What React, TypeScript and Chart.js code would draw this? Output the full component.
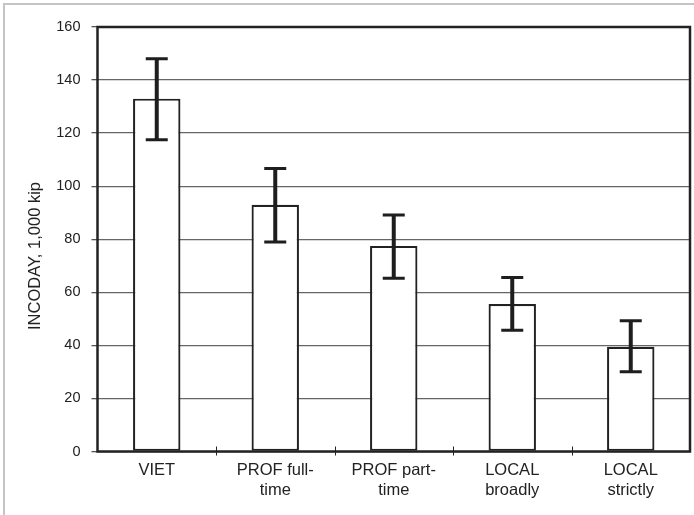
import React, { useEffect, useRef } from "react";
import { Chart, registerables } from "chart.js";

Chart.register(...registerables);

const categories: string[][] = [
  ["VIET"],
  ["PROF full-", "time"],
  ["PROF part-", "time"],
  ["LOCAL", "broadly"],
  ["LOCAL", "strictly"],
];
const means: number[] = [133, 93, 77.5, 55.6, 39.5];
const errLow: number[] = [117.5, 79, 65.3, 45.7, 30.1];
const errHigh: number[] = [148, 106.7, 89.1, 65.6, 49.3];
const yMin = 0;
const yMax = 160;
const yStep = 20;
const yTitle = "INCODAY, 1,000 kip";

const FONT = "'Liberation Sans', Arial, sans-serif";

const framePlugin = {
  id: "frame",
  beforeDraw(chart: any) {
    const ctx = chart.ctx;
    ctx.save();
    ctx.fillStyle = "#ffffff";
    ctx.fillRect(0, 0, chart.width, chart.height);
    ctx.fillStyle = "#c4c4c4";
    ctx.fillRect(3, 3, chart.width - 3, 2);
    ctx.fillRect(3, 3, 2, chart.height - 3);
    ctx.restore();
  },
  afterDatasetsDraw(chart: any) {
    const ctx = chart.ctx;
    const a = chart.chartArea;
    const x = chart.scales.x;
    const y = chart.scales.y;
    ctx.save();
    // x tick marks crossing axis
    ctx.strokeStyle = "#222";
    ctx.lineWidth = 1;
    for (let i = 1; i < categories.length; i++) {
      const px = Math.round((x.getPixelForValue(i - 1) + x.getPixelForValue(i)) / 2) + 0.5;
      ctx.beginPath();
      ctx.moveTo(px, a.bottom - 5);
      ctx.lineTo(px, a.bottom + 4);
      ctx.stroke();
    }
    // chart area border
    ctx.strokeStyle = "#222";
    ctx.lineWidth = 2.5;
    ctx.strokeRect(a.left, a.top, a.right - a.left, a.bottom - a.top);
    // error bars
    const meta = chart.getDatasetMeta(0);
    ctx.strokeStyle = "#1e1e1e";
    ctx.lineCap = "butt";
    meta.data.forEach((bar: any, i: number) => {
      const cx = bar.x;
      const yh = y.getPixelForValue(errHigh[i]);
      const yl = y.getPixelForValue(errLow[i]);
      ctx.lineWidth = 4;
      ctx.beginPath();
      ctx.moveTo(cx, yh);
      ctx.lineTo(cx, yl);
      ctx.stroke();
      ctx.lineWidth = 3;
      ctx.beginPath();
      ctx.moveTo(cx - 11, yh);
      ctx.lineTo(cx + 11, yh);
      ctx.moveTo(cx - 11, yl);
      ctx.lineTo(cx + 11, yl);
      ctx.stroke();
    });
    ctx.restore();
  },
  afterDraw(chart: any) {
    const ctx = chart.ctx;
    ctx.save();
    ctx.translate(35, 256);
    ctx.rotate(-Math.PI / 2);
    ctx.fillStyle = "#222";
    ctx.font = `16.5px ${FONT}`;
    ctx.textAlign = "center";
    ctx.textBaseline = "middle";
    ctx.fillText(yTitle, 0, 0);
    ctx.restore();
  },
};

export default function App() {
  const ref = useRef<HTMLCanvasElement | null>(null);
  useEffect(() => {
    if (!ref.current) return;
    const chart = new Chart(ref.current, {
      type: "bar",
      data: {
        labels: categories as any,
        datasets: [
          {
            data: means,
            backgroundColor: "#ffffff",
            borderColor: "#222",
            borderWidth: 2.2,
            borderSkipped: false,
            categoryPercentage: 1,
            barPercentage: 0.4,
          },
        ],
      },
      options: {
        responsive: false,
        animation: false,
        devicePixelRatio: 1,
        layout: { padding: { left: 0, right: 4, top: 27, bottom: 0 } },
        plugins: {
          legend: { display: false },
          tooltip: { enabled: false },
          title: { display: false },
        },
        scales: {
          x: {
            border: { display: false },
            grid: {
              drawOnChartArea: false,
              drawTicks: true,
              tickLength: 4,
              tickColor: "rgba(0,0,0,0)",
              lineWidth: 1,
            },
            ticks: {
              color: "#222",
              font: { family: FONT, size: 16.5 },
              padding: 5,
              maxRotation: 0,
              autoSkip: false,
            },
            afterFit: (s: any) => {
              s.height = 63.5;
            },
          },
          y: {
            min: yMin,
            max: yMax,
            border: { display: false },
            grid: {
              color: "#666",
              lineWidth: 1.3,
              drawTicks: true,
              tickLength: 6,
              tickColor: "#555",
            },
            ticks: {
              stepSize: yStep,
              color: "#222",
              font: { family: FONT, size: 14.5 },
              padding: 11,
            },
            afterFit: (s: any) => {
              s.width = 97.5;
            },
          },
        },
      },
      plugins: [framePlugin],
    });
    return () => chart.destroy();
  }, []);
  return (
    <div style={{ position: "absolute", left: 0, top: 0, width: 694, height: 515 }}>
      <canvas ref={ref} width={694} height={515} style={{ display: "block" }} />
    </div>
  );
}
